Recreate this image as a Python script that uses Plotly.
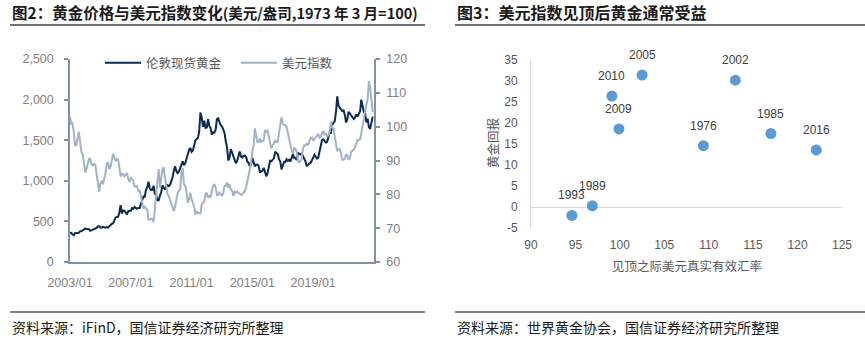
import plotly.graph_objects as go

W, H = 865, 340
def px(x): return x / W
def py(y): return 1 - y / H

# ---------------- Left chart data (monthly, 2003/01 - 2022/12) ----------------
gold = [
    356, 359, 340, 328, 355, 356, 351, 360, 379, 379, 389, 407,
    414, 405, 406, 404, 384, 392, 398, 400, 406, 420, 439, 442,
    424, 423, 434, 429, 422, 431, 424, 438, 456, 470, 476, 510,
    549, 555, 557, 610, 700, 596, 633, 632, 598, 586, 627, 629,
    631, 665, 655, 679, 667, 655, 665, 665, 712, 754, 806, 803,
    889, 922, 990, 909, 888, 889, 939, 839, 829, 760, 760, 816,
    858, 943, 924, 890, 928, 946, 934, 949, 996, 1043, 1127, 1180,
    1118, 1095, 1113, 1149, 1205, 1240, 1193, 1215, 1271, 1343, 1380, 1405,
    1356, 1372, 1424, 1500, 1512, 1529, 1600, 1840, 1780, 1665, 1739, 1652,
    1656, 1760, 1675, 1649, 1570, 1596, 1594, 1630, 1760, 1770, 1722, 1685,
    1671, 1627, 1593, 1487, 1414, 1250, 1286, 1390, 1349, 1316, 1275, 1215,
    1244, 1300, 1360, 1299, 1287, 1310, 1311, 1296, 1239, 1222, 1176, 1202,
    1280, 1227, 1179, 1198, 1199, 1181, 1100, 1118, 1125, 1159, 1086, 1055,
    1097, 1200, 1246, 1242, 1260, 1276, 1360, 1341, 1326, 1267, 1236, 1140,
    1192, 1234, 1231, 1266, 1246, 1260, 1237, 1283, 1330, 1280, 1283, 1255,
    1345, 1331, 1325, 1335, 1304, 1282, 1238, 1180, 1199, 1215, 1221, 1250,
    1292, 1320, 1300, 1275, 1284, 1359, 1413, 1500, 1511, 1495, 1471, 1480,
    1560, 1597, 1592, 1683, 1715, 1732, 1846, 2040, 1922, 1900, 1866, 1858,
    1867, 1808, 1718, 1760, 1850, 1834, 1807, 1785, 1760, 1777, 1821, 1790,
    1817, 1856, 2000, 1937, 1849, 1837, 1720, 1765, 1660, 1640, 1726, 1790,
]
dxy = [
    102.8, 100.8, 101.0, 98.5, 94.5, 94.5, 96.5, 98.5, 95.5, 92.5, 92.0, 88.5,
    86.5, 87.5, 89.0, 90.5, 90.5, 88.8, 88.5, 89.0, 88.7, 86.5, 83.2, 80.8,
    83.2, 84.0, 83.0, 84.5, 86.0, 89.0, 89.5, 87.5, 88.2, 90.0, 92.0, 90.8,
    89.8, 90.5, 90.3, 88.0, 85.3, 86.0, 86.0, 85.3, 85.7, 86.3, 84.5, 83.6,
    85.0, 84.6, 84.0, 82.3, 82.3, 82.5, 80.8, 81.3, 79.5, 77.6, 75.7, 76.4,
    75.8, 75.4, 72.5, 72.5, 72.8, 72.8, 71.8, 76.0, 78.5, 84.0, 87.5, 82.0,
    84.5, 87.5, 88.0, 85.5, 82.5, 80.0, 79.5, 78.5, 77.0, 76.0, 75.0, 76.5,
    78.5, 80.5, 81.0, 81.5, 86.5, 87.8, 83.0, 82.5, 80.5, 77.5, 78.5, 80.5,
    78.5, 77.5, 76.5, 74.0, 75.0, 74.5, 74.5, 74.2, 77.0, 77.5, 78.0, 80.0,
    80.5, 79.0, 79.5, 79.2, 81.5, 82.5, 83.0, 82.0, 79.8, 79.8, 80.5, 79.8,
    79.5, 80.5, 82.5, 82.5, 83.5, 82.0, 83.0, 81.5, 81.0, 79.5, 80.8, 80.5,
    80.8, 80.5, 80.0, 79.8, 80.0, 80.5, 81.0, 82.0, 84.5, 85.5, 87.5, 89.5,
    93.0, 94.5, 99.5, 97.5, 95.5, 95.5, 96.5, 95.5, 95.7, 96.0, 99.0, 98.5,
    98.8, 97.0, 96.0, 93.5, 94.5, 95.0, 96.0, 95.5, 95.5, 97.5, 100.5, 102.8,
    101.0, 100.5, 100.5, 100.0, 98.0, 96.8, 94.5, 93.0, 92.0, 93.7, 93.5, 92.5,
    90.0, 89.5, 89.8, 90.5, 93.5, 94.5, 94.5, 95.0, 94.5, 96.0, 96.7, 96.8,
    95.8, 96.5, 96.8, 97.2, 97.7, 96.8, 97.2, 98.0, 98.7, 97.7, 97.8, 97.2,
    97.4, 98.5, 101.5, 99.7, 99.5, 97.0, 95.0, 92.8, 93.3, 93.4, 92.0, 90.2,
    90.3, 90.6, 91.9, 91.5, 90.2, 90.7, 92.5, 92.8, 93.3, 93.9, 95.2, 96.1,
    96.0, 96.3, 98.0, 100.5, 103.0, 104.5, 106.5, 108.0, 113.5, 111.5, 106.5, 104.3,
]
dates = [f"{2003 + i // 12}-{i % 12 + 1:02d}-01" for i in range(len(gold))]
left_tickvals = ["2003-01-01", "2007-01-01", "2011-01-01", "2015-01-01", "2019-01-01"]
left_ticktext = ["2003/01", "2007/01", "2011/01", "2015/01", "2019/01"]

# ---------------- Right chart data ----------------
years = ["2010", "2005", "2009", "2002", "1976", "1985", "2016", "1989", "1993"]
reer = [99.1, 102.5, 99.9, 113.0, 109.4, 117.0, 122.1, 96.9, 94.6]
gold_ret = [26.4, 31.4, 18.6, 30.2, 14.6, 17.5, 13.6, 0.3, -2.0]
right_yticks = [-5, 0, 5, 10, 15, 20, 25, 30, 35]
right_yticktext = ["-5", "0", "5", "10", "15", "20", "25", "30", "35"]

GOLD_C = "#0c2a55"
DXY_C = "#a3b3c5"
AX_C = "#8393a7"
TICK_C = "#808080"
CJK = "Noto Sans CJK SC"
LAT = "Liberation Sans"

fig = go.Figure()
fig.add_trace(go.Scatter(x=dates, y=gold, name="伦敦现货黄金", mode="lines",
                         line=dict(color=GOLD_C, width=2), xaxis="x", yaxis="y"))
fig.add_trace(go.Scatter(x=dates, y=dxy, name="美元指数", mode="lines",
                         line=dict(color=DXY_C, width=2), xaxis="x", yaxis="y2"))
fig.add_trace(go.Scatter(x=reer, y=gold_ret, mode="markers", showlegend=False,
                         marker=dict(size=11, color="#5b9bd5"),
                         xaxis="x2", yaxis="y3", cliponaxis=False))

axis_font = dict(family=LAT, size=12.5, color=TICK_C)
fig.update_layout(
    width=W, height=H, margin=dict(l=0, r=0, t=0, b=0),
    paper_bgcolor="white", plot_bgcolor="white",
    xaxis=dict(domain=[px(70), px(374)], type="date", automargin=False,
               range=["2003-01-01", "2023-01-01"],
               tickvals=left_tickvals, ticktext=left_ticktext,
               showgrid=False, zeroline=False, showline=True, linecolor=AX_C, linewidth=1.5,
               ticks="", tickfont=axis_font, ticklabelstandoff=8),
    yaxis=dict(domain=[py(262), py(59)], range=[0, 2500], dtick=500, tickformat=",",
               automargin=False,
               showgrid=False, zeroline=False, showline=True, linecolor=AX_C, linewidth=1.5,
               ticks="outside", ticklen=4, tickcolor=AX_C, tickwidth=1.5,
               tickfont=axis_font, ticklabelstandoff=8),
    yaxis2=dict(overlaying="y", side="right", anchor="x", range=[60, 120], dtick=10,
                automargin=False,
                showgrid=False, zeroline=False, showline=True, linecolor=AX_C, linewidth=1.5,
                ticks="outside", ticklen=4, tickcolor=AX_C, tickwidth=1.5,
                tickfont=axis_font, ticklabelstandoff=4),
    xaxis2=dict(domain=[px(531), px(842)], anchor="y3", range=[90, 125], dtick=5,
                automargin=False,
                showgrid=False, zeroline=False, showline=False, ticks="",
                tickfont=dict(family=LAT, size=12, color="#595959"), ticklabelstandoff=8),
    yaxis3=dict(domain=[py(228), py(60)], anchor="x2", range=[-5, 35],
                tickvals=right_yticks, ticktext=right_yticktext, automargin=False,
                showgrid=False, zeroline=True, zerolinecolor="#d9d9d9", zerolinewidth=1,
                showline=True, linecolor="#d9d9d9", linewidth=1, ticks="",
                tickfont=dict(family=LAT, size=12, color="#595959"), ticklabelstandoff=10),
    legend=dict(orientation="h", x=px(100), xanchor="left", y=py(63), yanchor="middle",
                font=dict(family=CJK, size=12.5, color="#595959"),
                bgcolor="rgba(0,0,0,0)", entrywidth=85, entrywidthmode="pixels",
                itemwidth=36),
    showlegend=True,
)

shapes = []
for x0, x1 in [(10, 425), (455, 865)]:
    shapes.append(dict(type="line", xref="paper", yref="paper", x0=px(x0), x1=px(x1),
                       y0=py(25), y1=py(25), line=dict(color="#404040", width=1.5)))
    shapes.append(dict(type="line", xref="paper", yref="paper", x0=px(x0), x1=px(x1),
                       y0=py(312), y1=py(312), line=dict(color="#808080", width=2)))
fig.update_layout(shapes=shapes)

title_font = dict(family=CJK, size=15.5, color="#1a1a1a", weight="bold")
ann = [
    dict(x=px(10), y=py(12), text="图2：黄金价格与美元指数变化<span style='font-size:14.5px'>(美元/盎司,1973 年 3 月=100)</span>",
         font=title_font, xanchor="left", yanchor="middle"),
    dict(x=px(455), y=py(12), text="图3：美元指数见顶后黄金通常受益",
         font=dict(family=CJK, size=16, color="#1a1a1a", weight="bold"), xanchor="left", yanchor="middle"),
    dict(x=px(10), y=py(327), text="资料来源：iFinD，国信证券经济研究所整理",
         font=dict(family=CJK, size=14, color="#1a1a1a"), xanchor="left", yanchor="middle"),
    dict(x=px(455), y=py(327), text="资料来源：世界黄金协会，国信证券经济研究所整理",
         font=dict(family=CJK, size=14, color="#1a1a1a"), xanchor="left", yanchor="middle"),
    dict(x=px(492), y=py(143), text="黄金回报", textangle=-90,
         font=dict(family=CJK, size=12.5, color="#595959"), xanchor="center", yanchor="middle"),
    dict(x=px(687), y=py(265), text="见顶之际美元真实有效汇率",
         font=dict(family=CJK, size=12.5, color="#595959"), xanchor="center", yanchor="middle"),
]
for a in ann:
    a.update(xref="paper", yref="paper", showarrow=False)
# data labels of the scatter points, built from the data lists
for xv, yv, t in zip(reer, gold_ret, years):
    ann.append(dict(x=xv, y=yv, xref="x2", yref="y3", text=t, showarrow=False,
                    yshift=20, xanchor="center", yanchor="middle",
                    font=dict(family=LAT, size=12, color="#404040")))
fig.update_layout(annotations=ann)

fig.write_html("out.html")
